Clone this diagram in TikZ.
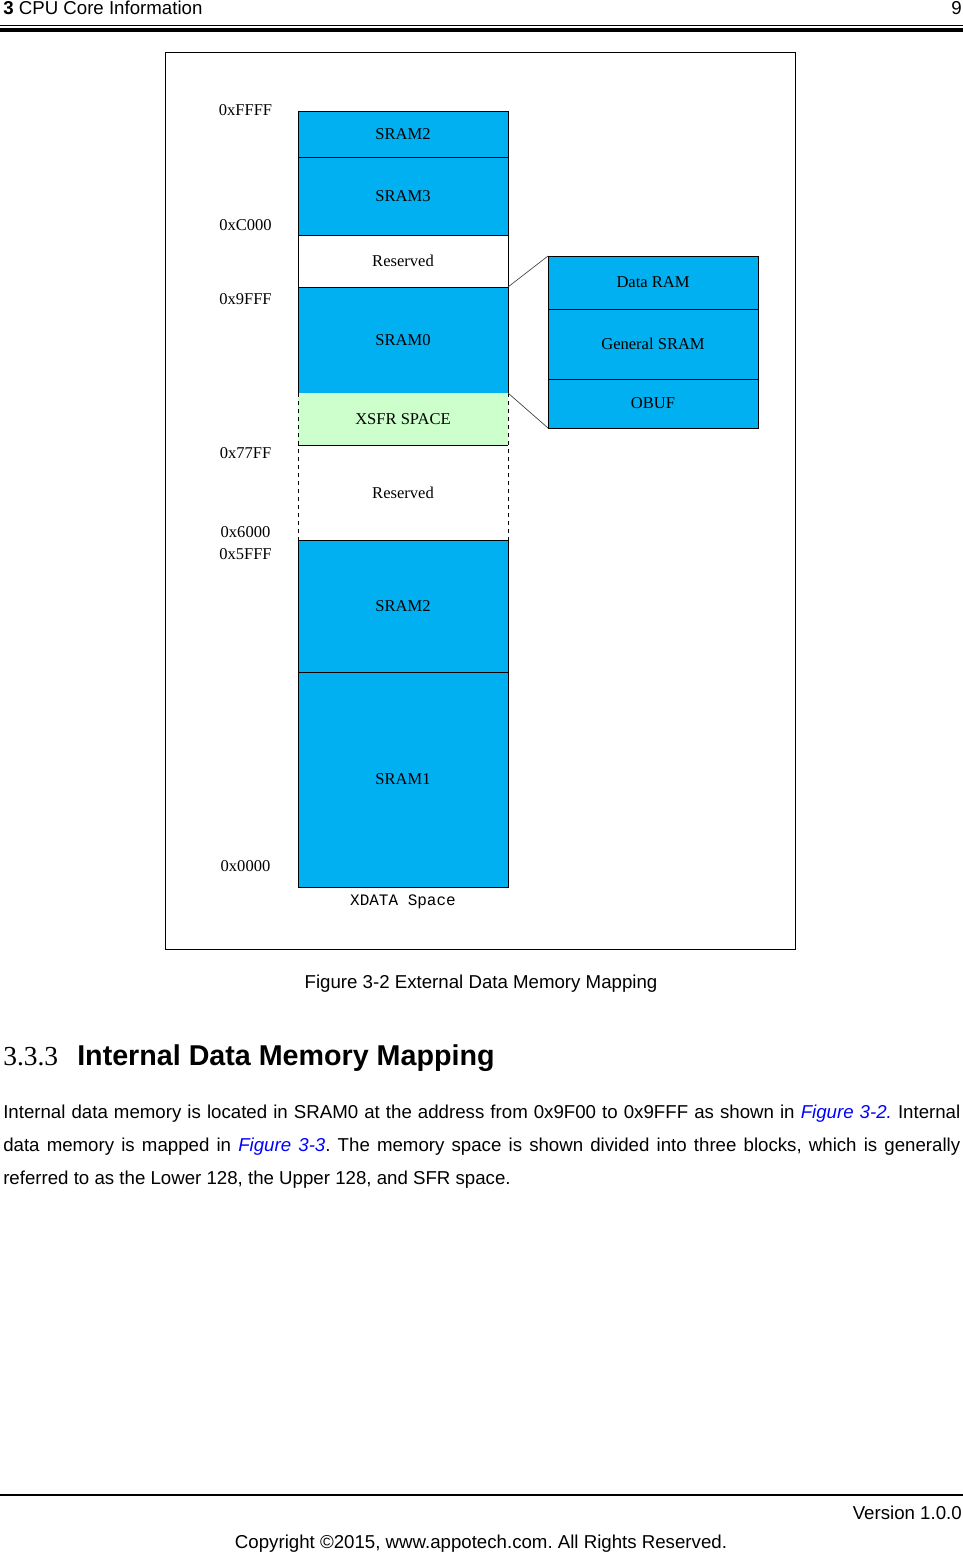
\documentclass[tikz,border=0pt]{standalone}
\usepackage{fontspec}
\setmainfont{Liberation Serif}
\setsansfont{Liberation Sans}
\setmonofont{Liberation Mono}
\usetikzlibrary{positioning}
\definecolor{MemBlue}{HTML}{00B0F0}
\definecolor{XsfrGreen}{HTML}{CCFFCC}
\definecolor{LinkBlue}{HTML}{0000FF}
\frenchspacing

\begin{document}
\begin{tikzpicture}[
  x=0.75pt, y=-0.75pt,
  blk/.style={draw, line width=0.75pt, fill=MemBlue, minimum width=157.5pt, inner sep=0pt, outer sep=0pt, font=\fontsize{12.4}{14}\selectfont},
  addr/.style={inner sep=0pt, font=\fontsize{12.4}{14}\selectfont},
  txt/.style={inner sep=0pt, font=\sffamily\fontsize{14}{16}\selectfont},
  lnk/.style={line width=0.5pt, black!75}
]
\useasboundingbox (0,0) rectangle (963,1553);

% page header
\node[txt, anchor=base west] (hdr) at (3,14) {\textbf{3} CPU Core Information};
\node[txt, anchor=base east] (pg) at (962,14) {9};
\draw[line width=0.75pt] (0,25) -- (963,25);
\draw[line width=3pt] (0,30) -- (963,30);

% figure frame
\draw[line width=0.75pt] (165,52) rectangle (795,949);

% XDATA column
\node[blk, minimum height=34.5pt] (s2h) at (403,134) {SRAM2};
\node[blk, minimum height=58.5pt, below=0pt of s2h] (s3) {SRAM3};
\node[blk, minimum height=39pt, fill=white, below=0pt of s3] (rsvh) {Reserved};
\node[blk, minimum height=79.5pt, below=0pt of rsvh] (s0) {SRAM0};
\node[blk, minimum height=39pt, draw=none, fill=XsfrGreen, below=0pt of s0] (xsfr) {XSFR SPACE};
\node[blk, minimum height=71.25pt, draw=none, fill=white, below=0pt of xsfr] (rsvl) {Reserved};
\node[blk, minimum height=99pt, below=0pt of rsvl] (s2l) {SRAM2};
\node[blk, minimum height=161.25pt, below=0pt of s2l] (s1) {SRAM1};
\draw[line width=0.75pt, dashed] (xsfr.north west) -- (rsvl.south west);
\draw[line width=0.75pt, dashed] (xsfr.north east) -- (rsvl.south east);
\draw[line width=0.75pt] (xsfr.south west) -- (xsfr.south east);
\node[font=\ttfamily\fontsize{12}{14}\selectfont, inner sep=0pt] (xlbl) at (403,902) {XDATA Space};

% SRAM0 detail
\node[blk, minimum height=39.75pt] (dram) at (653,282.5) {Data RAM};
\node[blk, minimum height=52.5pt, below=0pt of dram] (gsram) {General SRAM};
\node[blk, minimum height=36.75pt, below=0pt of gsram] (obuf) {OBUF};
\draw[lnk] (s0.north east) -- (dram.north west);
\draw[lnk] (s0.south east) -- (obuf.south west);

% addresses
\node[addr] (affff) at (245.5,110) {0xFFFF};
\node[addr] (ac000) at (245.5,225) {0xC000};
\node[addr] (a9fff) at (245.5,299) {0x9FFF};
\node[addr] (a77ff) at (245.5,453) {0x77FF};
\node[addr] (a6000) at (245.5,532) {0x6000};
\node[addr] (a5fff) at (245.5,554) {0x5FFF};
\node[addr] (a0000) at (245.5,866) {0x0000};

% caption and text
\node[txt, anchor=base] (cap) at (481,988) {Figure 3-2 External Data Memory Mapping};
\node[anchor=base west, inner sep=0pt, font=\fontsize{20.6}{24}\selectfont] (secnum) at (3,1065) {3.3.3};
\node[anchor=base west, inner sep=0pt, font=\sffamily\bfseries\fontsize{21.5}{26}\selectfont] (sectitle) at (77,1065) {Internal Data Memory Mapping};
\node[txt, anchor=base west] (p1) at (3,1118) {\makebox[717.75pt][s]{Internal data memory is located in SRAM0 at the address from 0x9F00 to 0x9FFF as shown in \textcolor{LinkBlue}{\itshape Figure 3-2.} Internal}};
\node[txt, anchor=base west] (p2) at (3,1151) {\makebox[717.75pt][s]{data memory is mapped in \textcolor{LinkBlue}{\itshape Figure 3-3}. The memory space is shown divided into three blocks, which is generally}};
\node[txt, anchor=base west] (p3) at (3,1184) {referred to as the Lower 128, the Upper 128, and SFR space.};

% page footer
\draw[line width=1.9pt] (0,1495) -- (963,1495);
\node[txt, anchor=base east] (ver) at (962,1519) {Version 1.0.0};
\node[txt, anchor=base] (copy) at (481,1548) {Copyright \textcopyright2015, www.appotech.com. All Rights Reserved.};
\end{tikzpicture}
\end{document}
